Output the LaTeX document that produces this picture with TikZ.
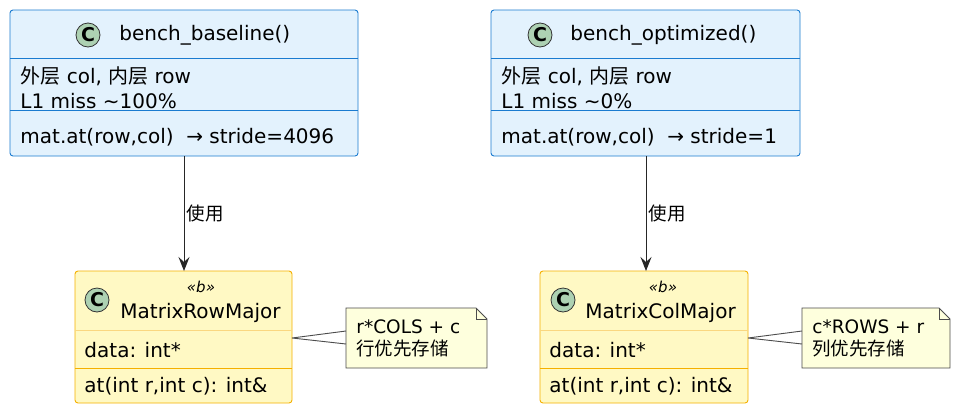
\documentclass[tikz,border=0pt]{standalone}
\usepackage{fontspec}
\setmainfont{DejaVu Sans}
\newfontfamily\cjk{Noto Sans CJK SC}
\usetikzlibrary{arrows.meta}
\definecolor{bluefill}{HTML}{E3F2FD}
\definecolor{blueline}{HTML}{1A7BD0}
\definecolor{yfill}{HTML}{FFF9C4}
\definecolor{yline}{HTML}{F5B000}
\definecolor{nfill}{HTML}{FEFFDD}
\definecolor{cgreen}{HTML}{ADD1B2}
\tikzset{x=1pt,y=-1pt,
 txt/.style={anchor=west,inner sep=0pt,font=\fontsize{20}{22}\selectfont},
 small/.style={inner sep=0pt,font=\fontsize{18.5}{20}\selectfont},
 stereo/.style={inner sep=0pt,font=\itshape\fontsize{15}{16}\selectfont},
 icon/.style={circle,draw=black!80,line width=0.8pt,fill=cgreen,minimum size=24pt,inner sep=0pt,font=\bfseries\fontsize{19}{19}\selectfont},
 arr/.style={-{Stealth[length=14pt,width=11pt,inset=5pt]},draw=black!85,line width=1pt},
 every path/.append style={line width=0.9pt}}
\begin{document}
\begin{tikzpicture}
\useasboundingbox[fill=white] (0,0) rectangle (960,413);
% top left
\draw[blueline,fill=bluefill,rounded corners=3pt] (10,10) rectangle (358,156);
\coordinate (tl) at (184,156);
\draw[blueline] (10,58)--(358,58) (10,110)--(358,110);
\node[icon] (i1) at (88,35) {C};
\node[txt] (t1) at (119,35) {bench\_baseline()};
\node[txt] at (20,76) {{\cjk 外层} col, {\cjk 内层} row};
\node[txt] at (20,101) {L1 miss \textasciitilde100\%};
\node[txt] at (20,137) {mat.at(row,col)\ \ → stride=4096};
% top right
\draw[blueline,fill=bluefill,rounded corners=3pt] (491,10) rectangle (800,156);
\draw[blueline] (491,58)--(800,58) (491,110)--(800,110);
\node[icon] (i2) at (540,35) {C};
\node[txt] (t2) at (570,35) {bench\_optimized()};
\node[txt] at (501,76) {{\cjk 外层} col, {\cjk 内层} row};
\node[txt] at (501,101) {L1 miss \textasciitilde0\%};
\node[txt] at (501,137) {mat.at(row,col)\ \ → stride=1};
% bottom left
\draw[yline,fill=yfill,rounded corners=3pt] (75,271) rectangle (292,403);
\draw[yline!50] (75,330)--(292,330);
\draw[yline] (75,368)--(292,368);
\node[icon] (i3) at (97,300) {C};
\node[stereo] at (201,287) {«b»};
\node[txt] (b1) at (120,313) {MatrixRowMajor};
\node[txt] at (84,350) {data: int*};
\node[txt] at (84,386) {at(int r,int c): int\&};
% bottom right
\draw[yline,fill=yfill,rounded corners=3pt] (540,271) rectangle (748,403);
\draw[yline!50] (540,330)--(748,330);
\draw[yline] (540,368)--(748,368);
\node[icon] (i4) at (563,300) {C};
\node[stereo] at (663,287) {«b»};
\node[txt] (b2) at (585,313) {MatrixColMajor};
\node[txt] at (549,350) {data: int*};
\node[txt] at (549,386) {at(int r,int c): int\&};
% arrows
\coordinate (bl) at (184,271);
\coordinate (tr) at (646,156);
\coordinate (br) at (646,271);
\draw[arr] (tl)--(bl) node[midway,right=2pt,small] {\cjk 使用};
\draw[arr] (tr)--(br) node[midway,right=2pt,small] {\cjk 使用};
% notes
\draw[black!70,fill=nfill] (346,308)--(476,308)--(487,319)--(487,368)--(346,368)--cycle;
\draw[black!70] (476,308)--(476,319)--(487,319);
\node[small,anchor=west] (n1) at (356,327) {r*COLS + c};
\node[small,anchor=west] at (356,348) {\cjk 行优先存储};
\draw[black!70] (292,338)--(346,331) (292,338)--(346,344);
\draw[black!70,fill=nfill] (802,308)--(939,308)--(950,319)--(950,368)--(802,368)--cycle;
\draw[black!70] (939,308)--(939,319)--(950,319);
\node[small,anchor=west] (n2) at (812,327) {c*ROWS + r};
\node[small,anchor=west] at (812,348) {\cjk 列优先存储};
\draw[black!70] (748,338)--(802,331) (748,338)--(802,344);
\end{tikzpicture}
\end{document}
